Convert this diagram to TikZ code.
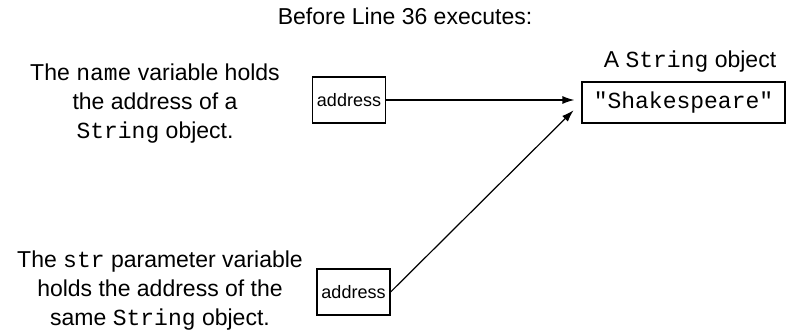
\documentclass[tikz,border=0pt]{standalone}
\usepackage{fontspec}
\setmainfont{Liberation Sans}
\setmonofont{Liberation Mono}
\usetikzlibrary{positioning}
\usetikzlibrary{arrows.meta}

\begin{document}
\begin{tikzpicture}[x=0.5pt, y=-0.5pt, line width=0.6pt,
    note/.style={inner sep=0pt, align=center, font=\fontsize{11.5}{14.5}\selectfont},
    addrbox/.style={draw, inner sep=0pt, minimum width=36.5pt, minimum height=23pt, font=\fontsize{9}{11}\selectfont},
    objbox/.style={draw, inner sep=0pt, minimum width=101.5pt, minimum height=20.5pt, font=\fontsize{11.5}{14}\selectfont\ttfamily},
    ref/.style={-{Latex[length=6pt, width=4pt]}}]
    \useasboundingbox (0,0) rectangle (786,331);
    % Nodes

    \node[note, anchor=base] (title) at (405, 25) {Before Line 36 executes:};
    \node[note, anchor=north] (namenote) at (155, 63) {The \texttt{name} variable holds\\the address of a\\ \texttt{String} object.};
    \node[note, anchor=north] (strnote) at (160, 250) {The \texttt{str} parameter variable\\holds the address of the\\same \texttt{String} object.};
    \node[addrbox] (nameaddr) at (349, 100) {address};
    \node[addrbox] (straddr) at (353.5, 292) {address};
    \node[objbox] (strobj) at (683.5, 102.5) {"Shakespeare"};
    \node[note, anchor=base] (objlabel) at (690, 68) {A \texttt{String} object};
    % Arrows

    \draw[ref, shorten >=3.5pt] (nameaddr.east) -- (nameaddr.east -| strobj.west);
    \draw[ref, shorten >=5.5pt] (straddr.east) -- (strobj.west);

\end{tikzpicture}
\end{document}
